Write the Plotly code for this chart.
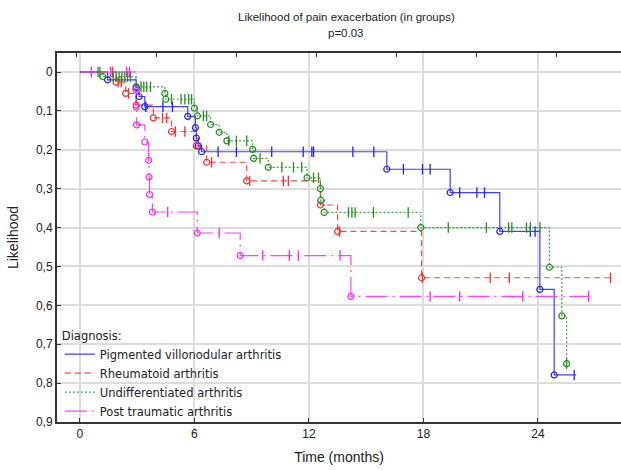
import plotly.graph_objects as go

# ---------------- data ----------------
groups = ["Pigmented villonodular arthritis", "Rheumatoid arthritis",
          "Undifferentiated arthritis", "Post traumatic arthritis"]

# Pigmented villonodular arthritis
pva_event_t = [1.45, 2.95, 3.1, 3.4, 5.65, 6.05, 6.1, 6.2, 6.38, 16.08, 19.4, 22.0, 24.1, 24.85]
pva_event_v = [0.02, 0.04, 0.063, 0.089, 0.114, 0.143, 0.17, 0.19, 0.205, 0.25, 0.31, 0.41, 0.559, 0.779]
pva_cens_t = [3.45, 4.35, 4.85, 7.24, 8.2, 10.05, 11.7, 12.15, 12.24, 14.3, 15.4,
              16.95, 17.95, 18.35, 19.9, 20.8, 21.2, 23.6, 23.85, 25.9]
pva_end = 26.0

# Rheumatoid arthritis
ra_event_t = [1.9, 2.4, 2.95, 3.85, 4.8, 6.1, 6.64, 8.74, 12.6, 13.5, 17.9]
ra_event_v = [0.026, 0.055, 0.085, 0.118, 0.153, 0.19, 0.232, 0.28, 0.342, 0.41, 0.529]
ra_cens_t = [1.7, 2.0, 2.17, 2.55, 4.33, 4.55, 5.0, 5.5, 6.9, 8.9, 10.66, 10.92,
             13.6, 17.95, 21.5, 22.5, 27.8]
ra_end = 27.9

# Undifferentiated arthritis
ua_event_t = [1.2, 2.95, 4.45, 4.5, 6.0, 6.15, 6.85, 7.3, 7.7, 9.05, 9.1, 9.87,
              11.9, 12.6, 12.62, 12.8, 17.86, 24.6, 25.25, 25.5]
ua_event_v = [0.012, 0.038, 0.055, 0.07, 0.093, 0.113, 0.135, 0.155, 0.177, 0.199,
              0.222, 0.245, 0.272, 0.30, 0.33, 0.361, 0.40, 0.502, 0.627, 0.75]
ua_cens_t = [0.95, 1.05, 1.75, 1.9, 2.05, 2.2, 2.35, 2.5, 2.65, 3.2, 3.35, 3.5, 3.7,
             4.8, 5.3, 5.5, 5.7, 5.85, 6.47, 6.64, 7.8, 8.2, 8.74, 9.44,
             10.58, 11.19, 11.62, 12.24, 12.5, 14.07, 14.25, 14.42, 15.38, 17.2,
             19.3, 21.3, 22.46, 22.63, 23.4, 23.6, 24.1, 25.5]
ua_end = 25.5

# Post traumatic arthritis
pta_event_t = [2.93, 2.95, 2.97, 3.4, 3.6, 3.62, 3.65, 3.8, 6.15, 8.4, 14.2]
pta_event_v = [0.045, 0.09, 0.136, 0.18, 0.227, 0.27, 0.315, 0.36, 0.414, 0.472, 0.577]
pta_cens_t = [0.6, 1.6, 2.45, 2.6, 4.6, 7.3, 9.58, 10.97, 11.45, 13.63,
              18.35, 19.9, 23.2, 26.65]
pta_end = 26.7

x_tick_vals = [0, 6, 12, 18, 24]
y_tick_vals = [0, 0.1, 0.2, 0.3, 0.4, 0.5, 0.6, 0.7, 0.8, 0.9]
y_tick_text = ["0", "0,1", "0,2", "0,3", "0,4", "0,5", "0,6", "0,7", "0,8", "0,9"]

title_line1 = "Likelihood of pain exacerbation (in groups)"
title_line2 = "p=0.03"

# ---------------- figure ----------------
colors = ["#2020ff", "#ff2a2a", "#1f8f1f", "#ff22ff"]
dashes = ["solid", "6px,4px", "2px,2px", "22px,5px,2px,5px"]
series = [
    (pva_event_t, pva_event_v, pva_cens_t, pva_end),
    (ra_event_t, ra_event_v, ra_cens_t, ra_end),
    (ua_event_t, ua_event_v, ua_cens_t, ua_end),
    (pta_event_t, pta_event_v, pta_cens_t, pta_end),
]

fig = go.Figure()


def step_value(t, ev_t, ev_v):
    v = 0.0
    for et, evv in zip(ev_t, ev_v):
        if et <= t:
            v = evv
    return v


for name, col, dash, (et, ev, ct, end) in zip(groups, colors, dashes, series):
    xs = [0] + list(et) + [end]
    ys = [0] + list(ev) + [ev[-1]]
    fig.add_trace(go.Scatter(x=xs, y=ys, mode="lines", line_shape="hv",
                             line=dict(color=col, width=1.2, dash=dash),
                             name=name, opacity=0.85))
for name, col, dash, (et, ev, ct, end) in zip(groups, colors, dashes, series):
    fig.add_trace(go.Scatter(x=et, y=ev, mode="markers", showlegend=False,
                             marker=dict(symbol="circle-open", size=6,
                                         color=col, line=dict(width=1.2)),
                             hoverinfo="skip"))
    cv = [step_value(t, et, ev) for t in ct]
    fig.add_trace(go.Scatter(x=ct, y=cv, mode="markers", showlegend=False,
                             marker=dict(symbol="line-ns-open", size=7.5,
                                         color=col, line=dict(width=1.3, color=col)),
                             hoverinfo="skip"))

# secondary top axis only for its small tick marks
fig.add_trace(go.Scatter(x=[0], y=[0], xaxis="x2", mode="markers",
                         marker=dict(opacity=0), showlegend=False, hoverinfo="skip"))

fig.update_layout(
    width=621, height=470,
    margin=dict(l=57, r=0, t=53, b=48),
    paper_bgcolor="white", plot_bgcolor="white",
    font=dict(family="Liberation Sans, Arial, sans-serif", size=12, color="#222"),
    annotations=[
        dict(text=title_line1, xref="paper", yref="paper", x=0.513, y=1.0976,
             xanchor="center", yanchor="middle", showarrow=False,
             font=dict(size=11.5, color="#222")),
        dict(text=title_line2, xref="paper", yref="paper", x=0.513, y=1.054,
             xanchor="center", yanchor="middle", showarrow=False,
             font=dict(size=11.5, color="#222")),
    ],
    xaxis=dict(range=[-1.2, 28.35], tickvals=x_tick_vals, ticks="inside", ticklen=4,
               tickcolor="#333", showline=True, linecolor="#333", linewidth=2,
               showgrid=True, gridcolor="#dcdcdc", gridwidth=1.5, zeroline=False,
               title=dict(text="Time (months)", standoff=12),
               tickfont=dict(size=12, color="#222")),
    xaxis2=dict(range=[-1.2, 28.35], overlaying="x", side="top", tick0=-0.16, dtick=4.19,
                ticks="inside", ticklen=4, tickcolor="#333", showticklabels=False,
                showline=True, linecolor="#333", linewidth=2, showgrid=False,
                zeroline=False),
    yaxis=dict(range=[0.9, -0.0489], tickvals=y_tick_vals, ticktext=y_tick_text,
               ticks="inside", ticklen=4, tickcolor="#333", showline=True,
               linecolor="#333", linewidth=2, showgrid=True, gridcolor="#dcdcdc",
               gridwidth=1.5, zeroline=False,
               title=dict(text="Likelihood", standoff=14),
               tickfont=dict(size=12, color="#222")),
    legend=dict(x=0.005, y=-0.01, xanchor="left", yanchor="bottom",
                bgcolor="rgba(255,255,255,0)",
                font=dict(family="DejaVu Sans, sans-serif", size=11.5, color="#222"),
                title=dict(text="Diagnosis:",
                           font=dict(family="DejaVu Sans, sans-serif", size=11.5, color="#222")),
                tracegroupgap=0, itemwidth=30),
    showlegend=True,
)

fig.write_html("out.html")
